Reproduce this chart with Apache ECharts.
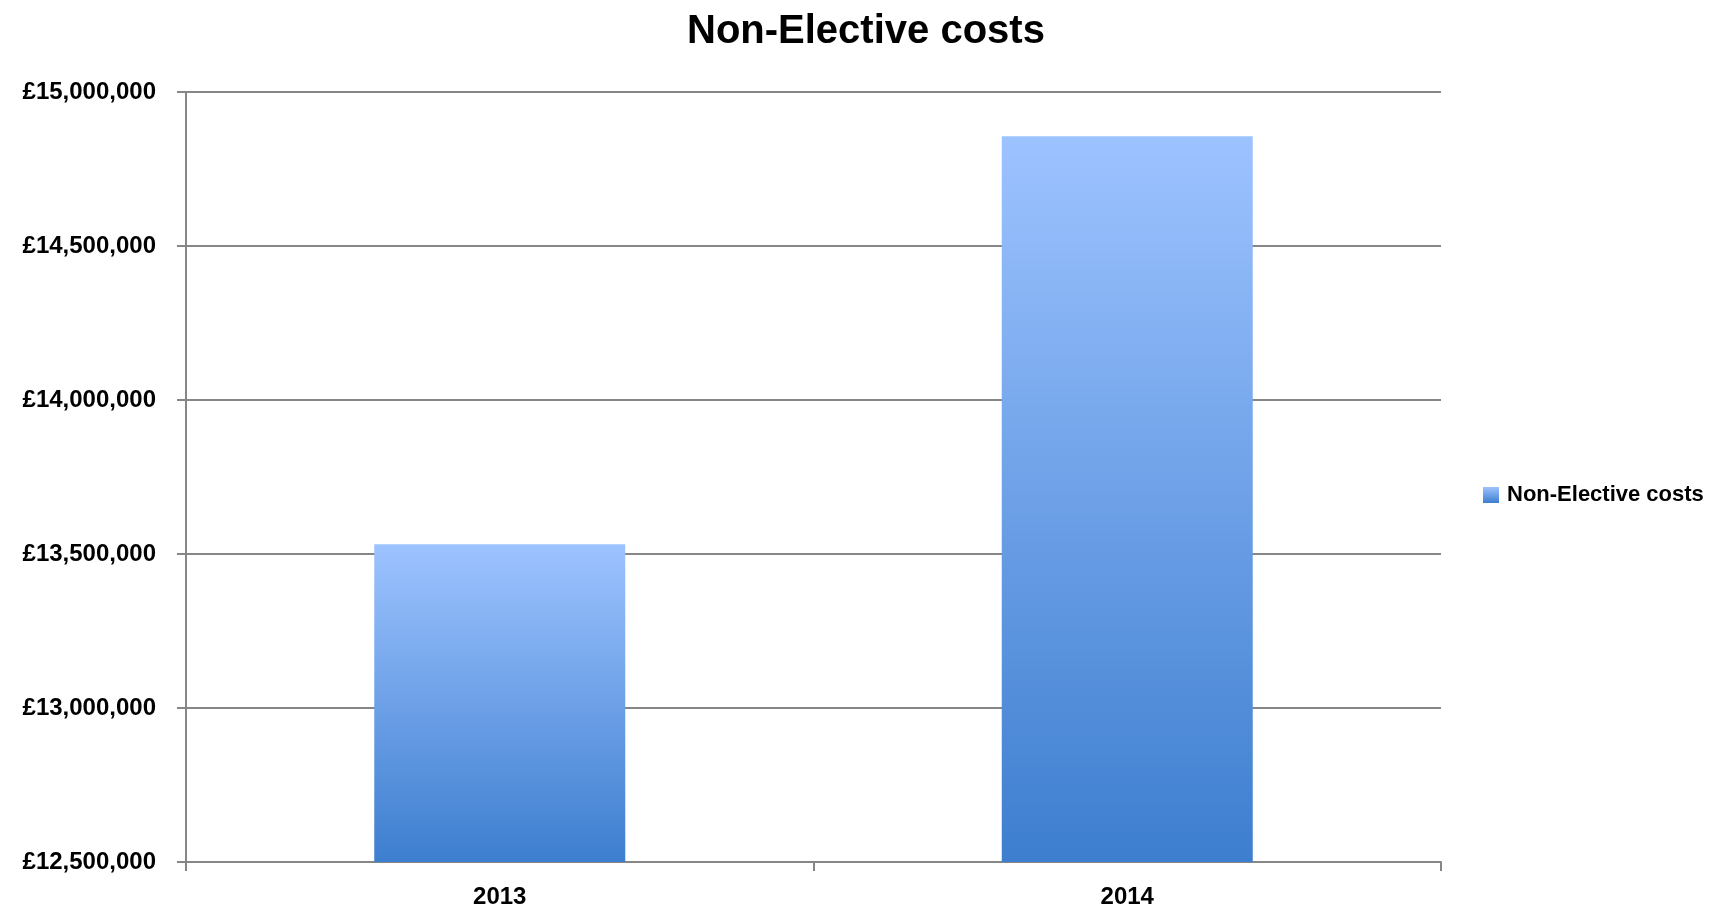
<!DOCTYPE html>
<html>
<head>
<meta charset="utf-8">
<script src="https://cdn.jsdelivr.net/npm/echarts@6/dist/echarts.min.js"></script>
<style>html,body{margin:0;padding:0;background:#fff;}#c{width:1717px;height:911px;}</style>
</head>
<body>
<div id="c"></div>
<script>
const title = 'Non-Elective costs';
const seriesName = 'Non-Elective costs';
const categories = ['2013', '2014'];
const values = [13531500, 14856000];
const yMin = 12500000, yMax = 15000000, yStep = 500000;

const FONT = '"Liberation Sans", Arial, sans-serif';
const grad = new echarts.graphic.LinearGradient(0, 0, 0, 1, [
  {offset: 0, color: '#9DC3FF'},
  {offset: 1, color: '#3D7ECF'}
]);
const chart = echarts.init(document.getElementById('c'), null, {renderer: 'canvas'});
chart.setOption({
  animation: false,
  backgroundColor: '#ffffff',
  title: {
    text: title, left: 687, top: 12, padding: 0,
    textStyle: {fontFamily: FONT, fontWeight: 'bold', fontSize: 40, color: '#000'}
  },
  legend: {
    data: [seriesName], orient: 'vertical', left: 1483, top: 484, padding: 0,
    itemWidth: 16, itemHeight: 16, itemGap: 8,
    icon: 'rect',
    textStyle: {fontFamily: FONT, fontWeight: 'bold', fontSize: 22, color: '#000', padding: [0,0,0,3]}
  },
  grid: {left: 186, right: 276, top: 92, bottom: 49, containLabel: false},
  xAxis: {
    type: 'category', data: categories,
    axisLine: {show: true, lineStyle: {color: '#868686', width: 2}},
    axisTick: {show: true, length: 9, lineStyle: {color: '#868686', width: 2}},
    axisLabel: {margin: 23, fontFamily: FONT, fontWeight: 'bold', fontSize: 24, color: '#000'},
    splitLine: {show: false}
  },
  yAxis: {
    type: 'value', min: yMin, max: yMax, interval: yStep,
    axisLine: {show: true, lineStyle: {color: '#868686', width: 2}},
    axisTick: {show: true, length: 9, lineStyle: {color: '#868686', width: 2}},
    axisLabel: {
      margin: 30, fontFamily: FONT, fontWeight: 'bold', fontSize: 24, color: '#000',
      formatter: v => '£' + v.toLocaleString('en-GB')
    },
    splitLine: {show: true, lineStyle: {color: '#868686', width: 2}}
  },
  series: [{
    name: seriesName, type: 'bar', data: values, barWidth: '40%',
    itemStyle: {color: grad}
  }]
});
</script>
</body>
</html>
